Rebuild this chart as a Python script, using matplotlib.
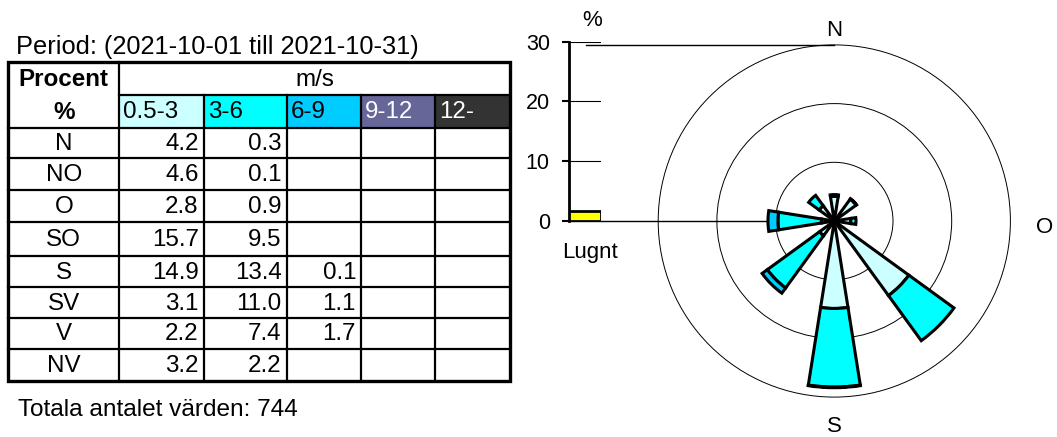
import matplotlib
matplotlib.use("Agg")
import matplotlib.pyplot as plt
from matplotlib.patches import Wedge, Circle, Rectangle
import numpy as np

plt.rcParams['font.family'] = ['Liberation Sans', 'DejaVu Sans']

# ---------------- data ----------------
directions = ["N", "NO", "O", "SO", "S", "SV", "V", "NV"]
dir_angles = [0, 45, 90, 135, 180, 225, 270, 315]
speed_classes = ["0.5-3", "3-6", "6-9", "9-12", "12-"]
class_colors = ["#CCFFFF", "#00FFFF", "#00CCFF", "#666699", "#333333"]
class_text_colors = ["black", "black", "black", "white", "white"]
v_05_3 = [4.2, 4.6, 2.8, 15.7, 14.9, 3.1, 2.2, 3.2]
v_3_6 = [0.3, 0.1, 0.9, 9.5, 13.4, 11.0, 7.4, 2.2]
v_6_9 = [0.0, 0.0, 0.0, 0.0, 0.1, 1.1, 1.7, 0.0]
v_9_12 = [0.0, 0.0, 0.0, 0.0, 0.0, 0.0, 0.0, 0.0]
v_12 = [0.0, 0.0, 0.0, 0.0, 0.0, 0.0, 0.0, 0.0]
calm = 1.6
ring_levels = [10, 20, 30]
scale_ticks = [0, 10, 20, 30]
period_text = "Period: (2021-10-01 till 2021-10-31)"
total_text = "Totala antalet värden: 744"

series = [v_05_3, v_3_6, v_6_9, v_9_12, v_12]

# ---------------- figure ----------------
W, H = 1057, 437
fig = plt.figure(figsize=(W / 100, H / 100), dpi=100)

# ---- table (pixel layout axes) ----
axt = fig.add_axes([0, 0, 1, 1])
axt.set_xlim(0, W)
axt.set_ylim(H, 0)
axt.axis("off")

col_edges = [8.3, 119.3, 203.7, 286.7, 361, 435, 510]
row_edges = [62.3, 95.3, 127.7, 158.3, 190, 221.7, 256, 287.3, 317.7, 349, 381]
FS = 17.4
lw_in = 1.6
lw_out = 2.4

# colored header cells
for j, (lab, c, tc) in enumerate(zip(speed_classes, class_colors, class_text_colors)):
    x0, x1 = col_edges[j + 1], col_edges[j + 2]
    y0, y1 = row_edges[1], row_edges[2]
    axt.add_patch(Rectangle((x0, y0), x1 - x0, y1 - y0, facecolor=c, edgecolor="none", zorder=1))
    axt.text(x0 + 4, (y0 + y1) / 2 + 1, lab, fontsize=FS, color=tc, ha="left", va="center", zorder=3)

# header texts
axt.text((col_edges[0] + col_edges[1]) / 2, (row_edges[0] + row_edges[1]) / 2 + 1, "Procent",
         fontsize=FS, fontweight="bold", ha="center", va="center")
axt.text((col_edges[0] + col_edges[1]) / 2, (row_edges[1] + row_edges[2]) / 2 + 1, "%",
         fontsize=FS, fontweight="bold", ha="center", va="center")
axt.text((col_edges[1] + col_edges[-1]) / 2, (row_edges[0] + row_edges[1]) / 2 + 1, "m/s",
         fontsize=FS, ha="center", va="center")

# body
for i, d in enumerate(directions):
    y0, y1 = row_edges[i + 2], row_edges[i + 3]
    yc = (y0 + y1) / 2 + 1
    axt.text((col_edges[0] + col_edges[1]) / 2, yc, d, fontsize=FS, ha="center", va="center")
    for j, s in enumerate(series):
        v = s[i]
        if v > 0:
            axt.text(col_edges[j + 2] - 5, yc, f"{v:.1f}", fontsize=FS, ha="right", va="center")

# grid lines
axt.plot([col_edges[1], col_edges[-1]], [row_edges[1]] * 2, color="black", lw=lw_in, zorder=2)
for y in row_edges[2:-1]:
    axt.plot([col_edges[0], col_edges[-1]], [y, y], color="black", lw=lw_in, zorder=2)
axt.plot([col_edges[1]] * 2, [row_edges[0], row_edges[-1]], color="black", lw=lw_in, zorder=2)
for x in col_edges[2:-1]:
    axt.plot([x, x], [row_edges[1], row_edges[-1]], color="black", lw=lw_in, zorder=2)
axt.add_patch(Rectangle((col_edges[0], row_edges[0]), col_edges[-1] - col_edges[0],
                        row_edges[-1] - row_edges[0], facecolor="none", edgecolor="black",
                        lw=lw_out, zorder=4))

axt.text(16, 47, period_text, fontsize=18.3, ha="left", va="center")
axt.text(18, 410, total_text, fontsize=17.6, ha="left", va="center")

# ---- wind rose (data in %) ----
cx_px, cy_px = 834.3, 221.0
spx = 5.87
r_left, r_right = 520.0, 1057.0
axr = fig.add_axes([r_left / W, 0, (r_right - r_left) / W, 1])
axr.set_xlim((r_left - cx_px) / spx, (r_right - cx_px) / spx)
axr.set_ylim(-(H - cy_px) / spx, cy_px / spx)
axr.axis("off")

for r in ring_levels:
    axr.add_patch(Circle((0, 0), r, facecolor="none", edgecolor="black", lw=0.7, zorder=1))

scale_x_px = 569.3
axr.plot([(585.7 - cx_px) / spx, 0], [ring_levels[-1], ring_levels[-1]], color="black", lw=1.0, zorder=2)
axr.plot([(scale_x_px - cx_px) / spx, 0], [0, 0], color="black", lw=1.0, zorder=2)

half = 9.0
cum = np.zeros(len(directions))
for s, c in zip(series, class_colors):
    vals = np.array(s)
    for i, a in enumerate(dir_angles):
        if vals[i] <= 0:
            continue
        r_in = cum[i]
        r_out = cum[i] + vals[i]
        th = 90 - a
        w = Wedge((0, 0), r_out, th - half, th + half,
                  width=(r_out - r_in) if r_in > 0 else None,
                  facecolor=c, edgecolor="black", lw=2.2, joinstyle="miter", zorder=3)
        axr.add_patch(w)
    cum = cum + vals

axr.text(0, 32.4, "N", fontsize=16, ha="center", va="center")
axr.text(0, -35.0, "S", fontsize=16, ha="center", va="center")
axr.text(35.9, -1.1, "O", fontsize=16, ha="center", va="center")

# ---- scale bar ----
s_top_px, s_bot_px = 41.7, 221.0
axs = fig.add_axes([scale_x_px / W, (H - s_bot_px) / H, 32 / W, (s_bot_px - s_top_px) / H])
axs.set_xlim(0, 1)
axs.set_ylim(scale_ticks[0], scale_ticks[-1])
axs.patch.set_alpha(0)
for sp in ["top", "right", "bottom"]:
    axs.spines[sp].set_visible(False)
axs.spines["left"].set_linewidth(2.0)
axs.set_xticks([])
axs.set_yticks(scale_ticks)
axs.set_yticklabels([str(t) for t in scale_ticks])
axs.tick_params(axis="y", direction="out", length=5, width=1.5, pad=9, labelsize=15.5)
for t in scale_ticks[1:]:
    axs.plot([0, 1], [t, t], color="black", lw=0.8, zorder=2)
axs.bar([0.5], [calm], width=1.0, color="#FFFF00", edgecolor="black", lw=2.0, zorder=3)
axs.text(0.7, 33.6, "%", fontsize=16, ha="center", va="center", clip_on=False)
axs.text(-0.22, -5.35, "Lugnt", fontsize=16, ha="left", va="center", clip_on=False)

fig.savefig("out.png", dpi=100)
